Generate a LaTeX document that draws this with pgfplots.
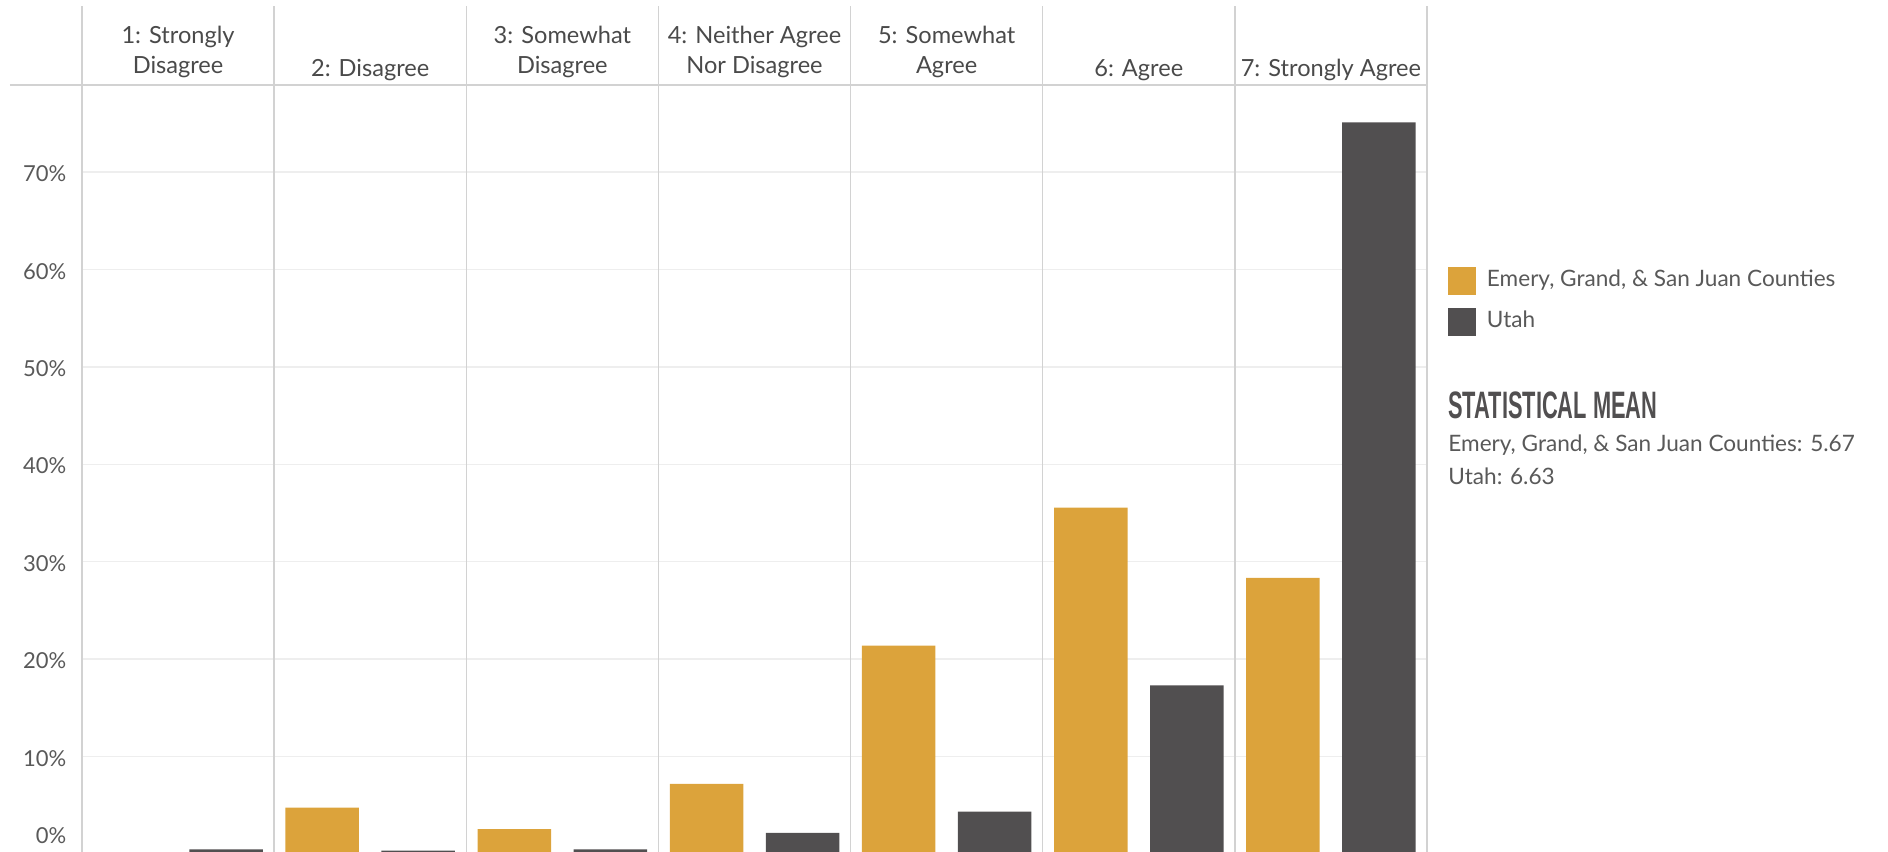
\documentclass[border=0pt]{standalone}
\usepackage{pgfplots}
\pgfplotsset{compat=1.18}
\usepackage{fontspec}
\setmainfont{Lato}
\newfontfamily\condfont{Liberation Sans}
\definecolor{gold}{HTML}{DCA33B}
\definecolor{utah}{HTML}{514F50}
\definecolor{sepc}{HTML}{D2D2D2}
\definecolor{gridc}{HTML}{EEEEEE}
\definecolor{txt}{HTML}{595959}
\definecolor{headtxt}{HTML}{4A4A4A}
\newcommand{\mainsize}{\fontsize{11.3bp}{13.6bp}\selectfont}
\newcommand{\headsize}{\fontsize{11.8bp}{14bp}\selectfont}
\newcommand{\ticksize}{\fontsize{11bp}{13bp}\selectfont}
\begin{document}
\begin{tikzpicture}
\useasboundingbox (-41bp,0bp) rectangle (903bp,426bp);
\begin{axis}[
  at={(0,0)}, anchor=south west,
  scale only axis, width=672.5bp, height=383.5bp,
  xmin=-0.5, xmax=6.5, ymin=0.2, ymax=78.95,
  axis line style={draw=none},
  major tick length=0pt,
  xtick=\empty,
  ytick={10,20,30,40,50,60,70},
  yticklabels={10\%,20\%,30\%,40\%,50\%,60\%,70\%},
  yticklabel style={anchor=east, inner sep=0pt, xshift=-7.65bp, yshift=-0.8bp, font=\ticksize, text=txt},
  ymajorgrids, grid style={gridc, line width=0.7bp},
  ybar, bar width=36.75bp,
  clip=false,
  legend cell align=left,
  legend style={draw=none, fill=none, inner sep=0pt, outer sep=0pt,
    at={(1.0156,0.7627)}, anchor=north west, row sep=6.5bp,
    nodes={inner sep=0pt, text height=7.5bp, text depth=2bp, font=\mainsize, text=txt},
    /tikz/every odd column/.append style={column sep=5.5bp}},
  legend image code/.code={\fill[#1] (0bp,-7bp) rectangle (14bp,7bp);},
]
\addplot[fill=gold, draw=none, bar shift=-24bp] coordinates {
  (0,0) (1,4.75) (2,2.54) (3,7.19) (4,21.39) (5,35.55) (6,28.34)};
\addlegendentry{Emery, Grand, \& San Juan Counties}
\addplot[fill=utah, draw=none, bar shift=24bp] coordinates {
  (0,0.48) (1,0.34) (2,0.48) (3,2.16) (4,4.34) (5,17.32) (6,75.12)};
\addlegendentry{Utah}
\pgfplotsinvokeforeach{10,20,...,70}{\draw[gridc, line width=0.7bp] (axis cs:-0.5,#1) -- ++(-5bp,0);}
\end{axis}
% column separators
\foreach \i in {0,...,7} {\draw[sepc, line width=0.7bp] ({\i*96.0714bp},0bp) -- ({\i*96.0714bp},423bp);}
% header line
\draw[sepc, line width=1.1bp] (-36bp,383.5bp) -- (672.5bp,383.5bp);
% 0% label
\node[anchor=east, inner sep=0pt, font=\ticksize, text=txt] at (-7.65bp,8bp) {0\%};
% header labels
\tikzset{hl/.style={anchor=base, inner sep=0pt, font=\headsize, text=headtxt}}
\node[hl] at ({0.5*96.0714bp},404.2bp) {1: Strongly};
\node[hl] at ({0.5*96.0714bp},389.2bp) {Disagree};
\node[hl] at ({1.5*96.0714bp},387.7bp) {2: Disagree};
\node[hl] at ({2.5*96.0714bp},404.2bp) {3: Somewhat};
\node[hl] at ({2.5*96.0714bp},389.2bp) {Disagree};
\node[hl] at ({3.5*96.0714bp},404.2bp) {4: Neither Agree};
\node[hl] at ({3.5*96.0714bp},389.2bp) {Nor Disagree};
\node[hl] at ({4.5*96.0714bp},404.2bp) {5: Somewhat};
\node[hl] at ({4.5*96.0714bp},389.2bp) {Agree};
\node[hl] at ({5.5*96.0714bp},387.7bp) {6: Agree};
\node[hl] at ({6.5*96.0714bp},387.7bp) {7: Strongly Agree};
% statistical mean
\node[anchor=base west, inner sep=0pt, text=utah] at (683bp,216.85bp)
  {\resizebox{104.5bp}{13.35bp}{\condfont\bfseries STATISTICAL MEAN}};
\node[anchor=base west, inner sep=0pt, font=\mainsize, text=txt] at (683bp,200bp) {Emery, Grand, \& San Juan Counties: 5.67};
\node[anchor=base west, inner sep=0pt, font=\mainsize, text=txt] at (683bp,183.5bp) {Utah: 6.63};
\end{tikzpicture}
\end{document}
